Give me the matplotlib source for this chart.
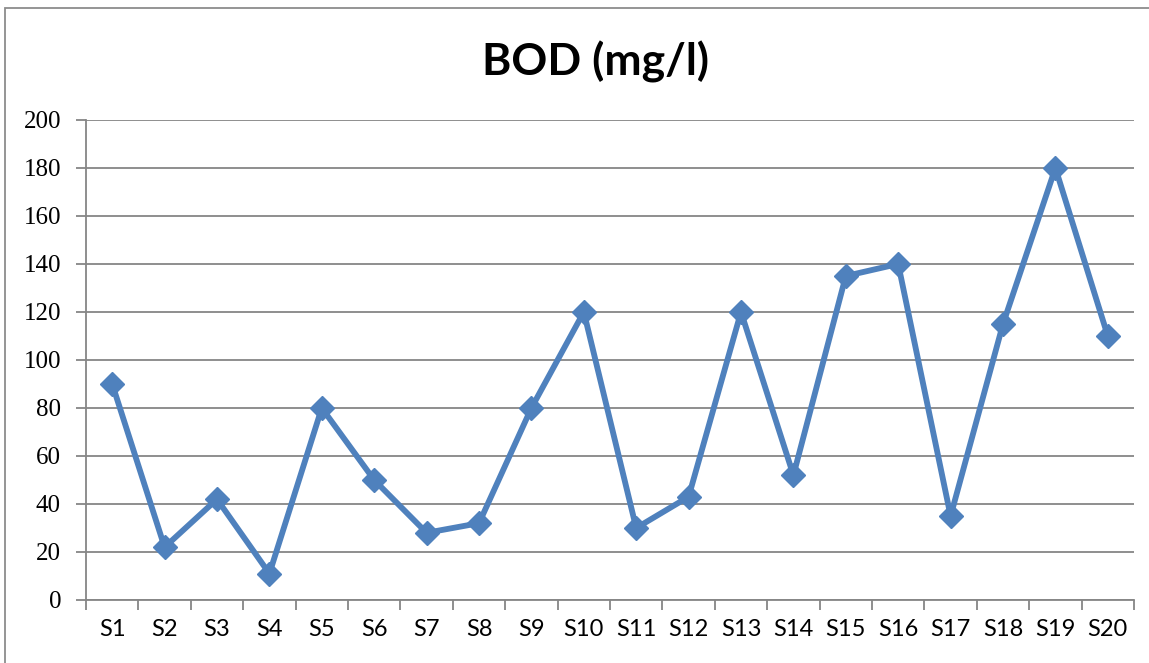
import numpy as np
import matplotlib.pyplot as plt
from matplotlib.patches import Rectangle

# =============================================================================
# Data
# =============================================================================
sites = ["S%d" % i for i in range(1, 21)]
bod = [90, 22, 42, 11, 80, 50, 28, 32, 80, 120, 30, 43, 120, 52, 135, 140, 35, 115, 180, 110]
yticks = [0, 20, 40, 60, 80, 100, 120, 140, 160, 180, 200]

# =============================================================================
# Graf
# =============================================================================
fig = plt.figure(figsize=(11.49, 6.63), dpi=100)
ax = fig.add_axes([86/1149, 1 - 600/663, (1134 - 86)/1149, (600 - 120)/663])

grid_c = '#868686'
x = np.arange(len(sites))
ax.plot(x, bod, color='#4F81BD', lw=4.2, marker='D', markersize=12,
        solid_joinstyle='miter', zorder=3)

ax.set_xlim(-0.5, len(sites) - 0.5)
ax.set_ylim(0, 200)
ax.set_yticks(yticks)
ax.yaxis.grid(True, color=grid_c, lw=1.3)
ax.set_axisbelow(True)

ax.set_xticks(x)
ax.set_xticklabels(sites, family='Lato', fontsize=17)
ax.set_xticks(np.arange(-0.5, len(sites)), minor=True)
ax.tick_params(axis='x', which='major', length=0, pad=14)
ax.tick_params(axis='x', which='minor', length=7, width=1.3, color=grid_c, direction='out')
ax.tick_params(axis='y', length=7, width=1.3, color=grid_c, pad=11, labelsize=18)
for lab in ax.get_yticklabels():
    lab.set_family('Liberation Serif')

for s in ['top', 'right']:
    ax.spines[s].set_visible(False)
for s in ['left', 'bottom']:
    ax.spines[s].set_color(grid_c)
    ax.spines[s].set_linewidth(1.3)

fig.text(595/1149, 1 - 62/663, "BOD (mg/l)", family='Lato', fontweight='bold',
         fontsize=32, ha='center', va='center')

# frame round the chart
fig.patches.append(Rectangle((5/1149, -0.05), 1.2, 1 - 8/663 + 0.05,
                             transform=fig.transFigure, fill=False,
                             edgecolor='#8c8c8c', lw=1.3))

fig.savefig('out.png', dpi=100)
